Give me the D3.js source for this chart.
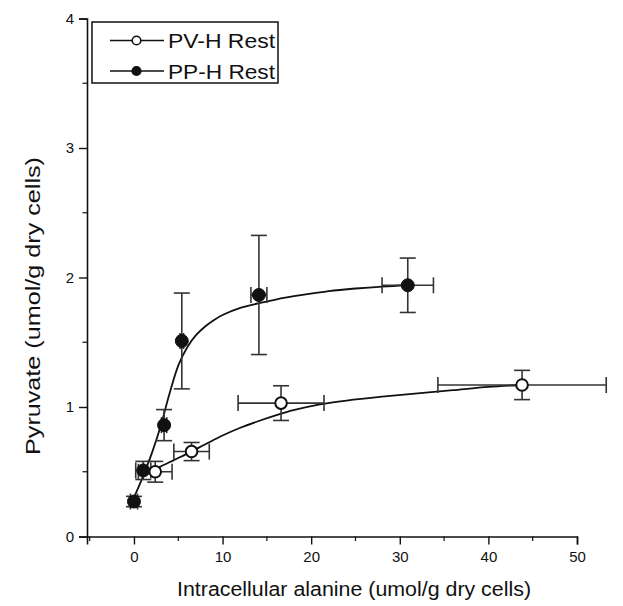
<!DOCTYPE html>
<html>
<head>
<meta charset="utf-8">
<script src="https://cdn.jsdelivr.net/npm/d3@7"></script>
<style>
  html, body { margin: 0; padding: 0; background: #fff; }
  svg { display: block; font-family: "Liberation Sans", Arial, sans-serif; }
</style>
</head>
<body>
<svg id="chart" width="623" height="606"></svg>
<script>
// Measured points (mean ± SD)
const pvX    = [2.4, 6.5, 16.6, 43.8];
const pvY    = [0.50, 0.656, 1.03, 1.17];
const pvXErr = [1.9, 2.0, 4.85, 9.5];
const pvYErr = [0.08, 0.07, 0.134, 0.113];

const ppX    = [0.0, 1.05, 3.4, 5.4, 14.1, 30.9];
const ppY    = [0.27, 0.51, 0.86, 1.51, 1.865, 1.94];
const ppXErr = [0.4, 0.85, 0.3, 0.2, 0.9, 2.9];
const ppYErr = [0.04, 0.07, 0.12, 0.37, 0.46, 0.21];

// Fitted saturation curves
const ppFitX = [0, 1, 2, 3, 4, 5, 6, 7, 8, 9, 10, 12, 14, 16, 19, 22, 25, 28, 31];
const ppFitY = [0.30, 0.46, 0.64, 0.85, 1.10, 1.32, 1.46, 1.555, 1.62, 1.67, 1.71, 1.765, 1.80, 1.83, 1.865, 1.895, 1.915, 1.93, 1.94];
const pvFitX = [1, 2, 3, 4.5, 6, 8, 10, 12, 14, 16, 18, 21, 24, 28, 32, 36, 40, 43.8];
const pvFitY = [0.47, 0.505, 0.54, 0.59, 0.64, 0.71, 0.78, 0.84, 0.89, 0.935, 0.975, 1.02, 1.05, 1.08, 1.105, 1.13, 1.155, 1.17];

// Axis ticks and labels
const xMajor = [0, 10, 20, 30, 40, 50];
const xMinor = [-5, 5, 15, 25, 35, 45];
const yMajor = [0, 1, 2, 3, 4];
const yMinor = [0.5, 1.5, 2.5, 3.5];
const xTitle = "Intracellular alanine (umol/g dry cells)";
const yTitle = "Pyruvate (umol/g dry cells)";
const legendNames = ["PV-H Rest", "PP-H Rest"];

const svg = d3.select("#chart");
const x = d3.scaleLinear().domain([-5.3, 50]).range([87, 577]);
const y = d3.scaleLinear().domain([0, 4]).range([536.5, 18.5]);

const ink = "#111";

// Axes
const xAxis = svg.append("g").attr("transform", `translate(0,${y(0)})`)
  .call(d3.axisBottom(x).tickValues(xMajor).tickSize(8).tickPadding(7).tickFormat(d3.format("d")));
xAxis.append("g").selectAll("line").data(xMinor).join("line")
  .attr("x1", d => x(d)).attr("x2", d => x(d)).attr("y1", 0).attr("y2", 4.5)
  .attr("stroke", ink).attr("stroke-width", 1.2);

const yAxis = svg.append("g").attr("transform", `translate(${x(-5.3)},0)`)
  .call(d3.axisLeft(y).tickValues(yMajor).tickSize(8).tickPadding(5).tickFormat(d3.format("d")));
yAxis.append("g").selectAll("line").data(yMinor).join("line")
  .attr("x1", 0).attr("x2", -4.5).attr("y1", d => y(d)).attr("y2", d => y(d))
  .attr("stroke", ink).attr("stroke-width", 1.2);

[xAxis, yAxis].forEach(g => {
  g.select(".domain").attr("stroke", ink).attr("stroke-width", 1.6);
  g.selectAll(".tick line").attr("stroke", ink).attr("stroke-width", 1.4);
  g.selectAll(".tick text").attr("fill", ink).attr("font-size", 15)
    .attr("font-family", "Liberation Sans, Arial, sans-serif");
});

// Axis titles
svg.append("text")
  .attr("x", 354).attr("y", 596)
  .attr("text-anchor", "middle").attr("font-size", 20).attr("fill", ink)
  .attr("textLength", 354).attr("lengthAdjust", "spacingAndGlyphs")
  .text(xTitle);
svg.append("text")
  .attr("transform", "translate(40,306) rotate(-90)")
  .attr("text-anchor", "middle").attr("font-size", 21).attr("fill", ink)
  .attr("textLength", 298).attr("lengthAdjust", "spacingAndGlyphs")
  .text(yTitle);

// Fitted curves
const line = d3.line().x(d => x(d[0])).y(d => y(d[1])).curve(d3.curveCatmullRom.alpha(0.5));
svg.append("path").datum(d3.zip(pvFitX, pvFitY)).attr("d", line)
  .attr("fill", "none").attr("stroke", ink).attr("stroke-width", 1.8);
svg.append("path").datum(d3.zip(ppFitX, ppFitY)).attr("d", line)
  .attr("fill", "none").attr("stroke", ink).attr("stroke-width", 1.8);

// Error bars with caps
const cap = 8;
function errorBars(xs, ys, xe, ye) {
  const g = svg.append("g").attr("stroke", "#333").attr("stroke-width", 1.6).attr("fill", "none");
  xs.forEach((xv, i) => {
    const cx = x(xv), cy = y(ys[i]);
    const x0 = x(xv - xe[i]), x1 = x(xv + xe[i]);
    const y0 = y(ys[i] - ye[i]), y1 = y(ys[i] + ye[i]);
    g.append("line").attr("x1", x0).attr("x2", x1).attr("y1", cy).attr("y2", cy);
    g.append("line").attr("x1", x0).attr("x2", x0).attr("y1", cy - cap).attr("y2", cy + cap);
    g.append("line").attr("x1", x1).attr("x2", x1).attr("y1", cy - cap).attr("y2", cy + cap);
    g.append("line").attr("x1", cx).attr("x2", cx).attr("y1", y0).attr("y2", y1);
    g.append("line").attr("x1", cx - cap).attr("x2", cx + cap).attr("y1", y0).attr("y2", y0);
    g.append("line").attr("x1", cx - cap).attr("x2", cx + cap).attr("y1", y1).attr("y2", y1);
  });
}
errorBars(pvX, pvY, pvXErr, pvYErr);
errorBars(ppX, ppY, ppXErr, ppYErr);

// Markers
svg.append("g").selectAll("circle").data(d3.zip(pvX, pvY)).join("circle")
  .attr("cx", d => x(d[0])).attr("cy", d => y(d[1])).attr("r", 5.8)
  .attr("fill", "#fff").attr("stroke", ink).attr("stroke-width", 2);
svg.append("g").selectAll("circle").data(d3.zip(ppX, ppY)).join("circle")
  .attr("cx", d => x(d[0])).attr("cy", d => y(d[1])).attr("r", 6.5)
  .attr("fill", ink).attr("stroke", ink).attr("stroke-width", 1);

// Legend
const lg = svg.append("g");
lg.append("rect").attr("x", 92).attr("y", 22).attr("width", 186).attr("height", 61)
  .attr("fill", "#fff").attr("stroke", ink).attr("stroke-width", 1.5);
const rows = [40.5, 71];
rows.forEach((ry, i) => {
  lg.append("line").attr("x1", 110).attr("x2", 164).attr("y1", ry).attr("y2", ry)
    .attr("stroke", ink).attr("stroke-width", 1.5);
  lg.append("circle").attr("cx", 136.5).attr("cy", ry).attr("r", 4.3)
    .attr("fill", i === 0 ? "#fff" : ink).attr("stroke", ink).attr("stroke-width", 1.6);
  lg.append("text").attr("x", 168).attr("y", ry + 7.5)
    .attr("font-size", 20).attr("fill", ink)
    .attr("textLength", 107).attr("lengthAdjust", "spacingAndGlyphs")
    .text(legendNames[i]);
});
</script>
</body>
</html>
